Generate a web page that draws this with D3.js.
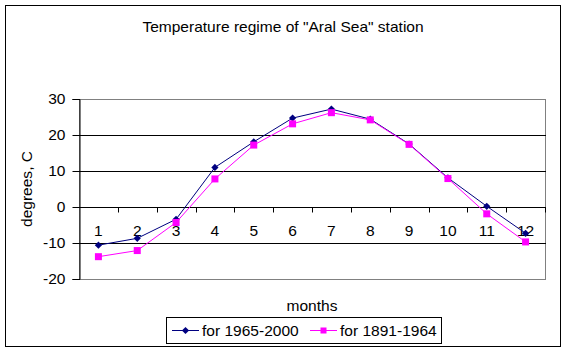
<!DOCTYPE html>
<html>
<head>
<meta charset="utf-8">
<script src="https://cdn.jsdelivr.net/npm/d3@7"></script>
<style>
  body { margin: 0; background: #fff; }
  text { font-family: Arial, "Liberation Sans", sans-serif; }
</style>
</head>
<body>
<div id="chart"></div>
<script>
// data
const months = ["1", "2", "3", "4", "5", "6", "7", "8", "9", "10", "11", "12"];
const recent = [-10.6, -8.7, -3.4, 11.0, 18.1, 24.7, 27.2, 24.4, 17.5, 8.1, 0.2, -7.3];   // for 1965-2000
const early  = [-13.8, -12.1, -4.3, 7.8, 17.2, 23.1, 26.2, 24.2, 17.4, 7.9, -1.9, -9.7];  // for 1891-1964
const yTicks = [-20, -10, 0, 10, 20, 30];
const seriesNames = ["for 1965-2000", "for 1891-1964"];

const width = 567, height = 353;
const plot = { left: 79, right: 545, top: 99, bottom: 279 };
const stretch = 1.11;   // the original text is a bit wider than plain Arial

const svg = d3.select("#chart")
  .append("svg")
  .attr("width", width)
  .attr("height", height);

// helper: text placed at (x,y), stretched horizontally
function label(parent, x0, y0, str, anchor = "start", rot = 0) {
  return parent.append("text")
    .attr("transform", `translate(${x0},${y0}) rotate(${rot}) scale(${stretch},1)`)
    .attr("text-anchor", anchor)
    .attr("font-size", "14px")
    .text(str);
}

// outer frame
svg.append("rect")
  .attr("x", 5.5).attr("y", 5.5)
  .attr("width", 555).attr("height", 341)
  .attr("fill", "white")
  .attr("stroke", "black");

// scales
const x = d3.scaleBand()
  .domain(months)
  .range([plot.left, plot.right]);

const y = d3.scaleLinear()
  .domain([-20, 30])
  .range([plot.bottom, plot.top]);

// plot area border (gray)
svg.append("rect")
  .attr("x", plot.left + 0.5).attr("y", y(30) + 0.5)
  .attr("width", plot.right - plot.left).attr("height", y(-20) - y(30))
  .attr("fill", "none")
  .attr("stroke", "#808080");

// gridlines
svg.append("g")
  .selectAll("line")
  .data(yTicks.filter(d => d > -20 && d < 30))
  .join("line")
  .attr("x1", plot.left).attr("x2", plot.right + 1)
  .attr("y1", d => Math.round(y(d)) + 0.5)
  .attr("y2", d => Math.round(y(d)) + 0.5)
  .attr("stroke", "black");

// y axis
const yAxis = svg.append("g")
  .attr("transform", `translate(${plot.left + 0.5},0)`)
  .call(d3.axisLeft(y).tickValues(yTicks).tickSize(7).tickPadding(6).tickFormat(d => String(d)));
yAxis.select(".domain").attr("stroke", "black");
yAxis.selectAll(".tick line").attr("stroke", "black");
yAxis.selectAll("text")
  .attr("font-size", "14px")
  .attr("font-family", "Arial, 'Liberation Sans', sans-serif")
  .attr("fill", "black")
  .attr("x", null)
  .attr("transform", `translate(-14,0) scale(${stretch},1)`);

// x axis crossing at 0, ticks between categories
const xAxisY = Math.round(y(0)) + 0.5;
svg.append("g")
  .selectAll("line")
  .data(months.map((m, i) => i + 1))
  .join("line")
  .attr("x1", i => Math.round(plot.left + i * x.step()) + 0.5)
  .attr("x2", i => Math.round(plot.left + i * x.step()) + 0.5)
  .attr("y1", xAxisY).attr("y2", xAxisY + 5)
  .attr("stroke", "black");

const xLabels = svg.append("g");
months.forEach(m => label(xLabels, x(m) + x.bandwidth() / 2, xAxisY + 28, m, "middle"));

// lines
const line = data => d3.line()
  .x((d, i) => x(months[i]) + x.bandwidth() / 2)
  .y(d => y(d))(data);

svg.append("path")
  .attr("d", line(recent))
  .attr("fill", "none")
  .attr("stroke", "#000080")
  .attr("stroke-width", 1);

svg.append("path")
  .attr("d", line(early))
  .attr("fill", "none")
  .attr("stroke", "#FF00FF")
  .attr("stroke-width", 1);

// markers (diamond = square turned 45deg)
const diamond = d3.symbol().type(d3.symbolSquare).size(26);
svg.append("g")
  .selectAll("path")
  .data(recent)
  .join("path")
  .attr("d", diamond)
  .attr("transform", (d, i) => `translate(${x(months[i]) + x.bandwidth() / 2},${y(d)}) rotate(45)`)
  .attr("fill", "#000080");

svg.append("g")
  .selectAll("rect")
  .data(early)
  .join("rect")
  .attr("x", (d, i) => x(months[i]) + x.bandwidth() / 2 - 3.5)
  .attr("y", d => y(d) - 3.5)
  .attr("width", 7).attr("height", 7)
  .attr("fill", "#FF00FF");

// title
label(svg, 283, 32, 'Temperature regime of "Aral Sea" station', "middle");

// axis titles
label(svg, 32, (plot.top + plot.bottom) / 2, "degrees, C", "middle", -90);
label(svg, (plot.left + plot.right) / 2, 311, "months", "middle");

// legend
const legend = svg.append("g");
legend.append("rect")
  .attr("x", 166.5).attr("y", 317.5)
  .attr("width", 275).attr("height", 26)
  .attr("fill", "white")
  .attr("stroke", "black");

const legendItems = [
  { name: seriesNames[0], color: "#000080", x0: 172, tx: 202 },
  { name: seriesNames[1], color: "#FF00FF", x0: 310, tx: 340 }
];
legendItems.forEach((it, i) => {
  legend.append("line")
    .attr("x1", it.x0).attr("x2", it.x0 + 27)
    .attr("y1", 330.5).attr("y2", 330.5)
    .attr("stroke", it.color);
  if (i === 0) {
    legend.append("path")
      .attr("d", diamond)
      .attr("transform", `translate(${it.x0 + 13.5},330.5) rotate(45)`)
      .attr("fill", it.color);
  } else {
    legend.append("rect")
      .attr("x", it.x0 + 10.5).attr("y", 327.5)
      .attr("width", 6).attr("height", 6)
      .attr("fill", it.color);
  }
  label(legend, it.tx, 335.5, it.name);
});
</script>
</body>
</html>
